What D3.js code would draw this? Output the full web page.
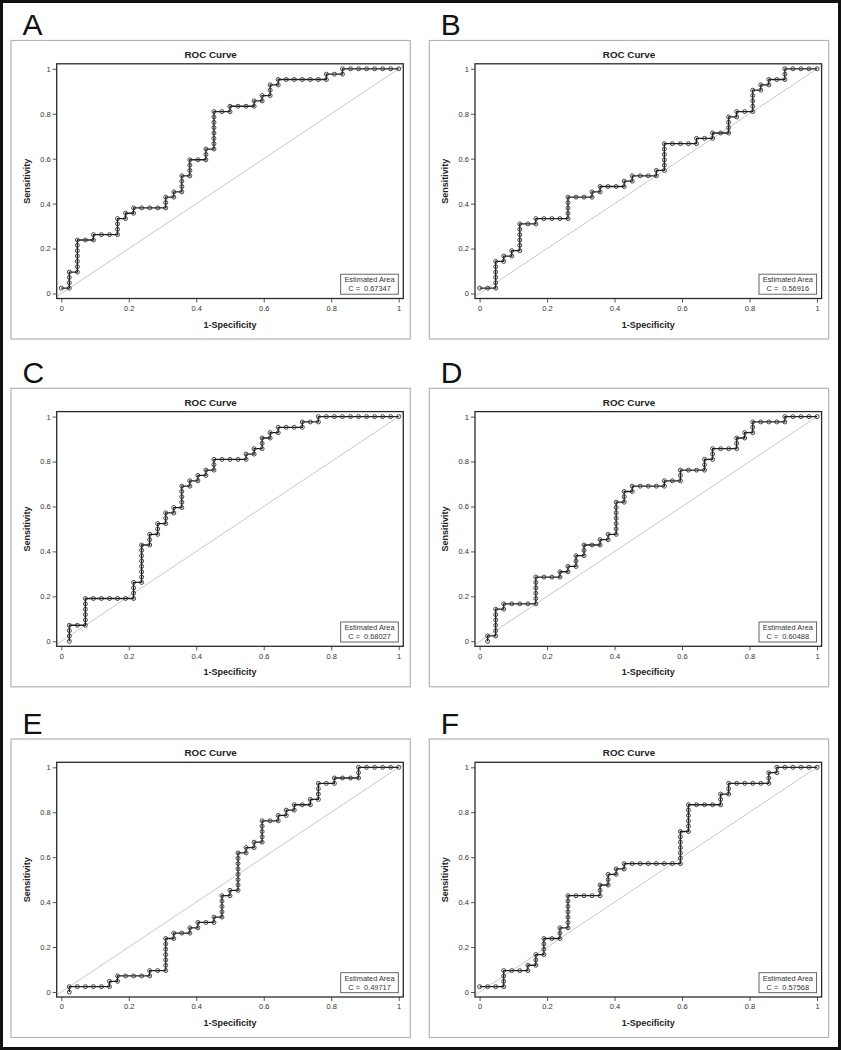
<!DOCTYPE html>
<html><head><meta charset="utf-8">
<script src="https://cdn.jsdelivr.net/npm/d3@7"></script>
<style>
body{margin:0;background:#fff}
svg{display:block}
text{font-family:"Liberation Sans",Arial,Helvetica,sans-serif}
</style>
</head><body>
<svg id="chart" width="841" height="1050"></svg>
<script>
// ---------- data ----------
const panelLetters = ["A", "B", "C", "D", "E", "F"];
const aucValues = ["0.67347", "0.56916", "0.68027", "0.60488", "0.49717", "0.57568"];
const tickValues = [0, 0.2, 0.4, 0.6, 0.8, 1];
const tickLabels = ["0", "0.2", "0.4", "0.6", "0.8", "1"];
const nNeg = 42;   // 1-specificity denominator
const nPos = 42;   // sensitivity denominator

// ROC points as [false-positive count, true-positive count]
const rocA = [[0,1],[1,1],[1,2],[1,3],[1,4],[2,4],[2,5],[2,6],[2,7],[2,8],[2,9],[2,10],[3,10],[4,10],[4,11],[5,11],[6,11],[7,11],[7,12],[7,13],[7,14],[8,14],[8,15],[9,15],[9,16],[10,16],[11,16],[12,16],[13,16],[13,17],[13,18],[14,18],[14,19],[15,19],[15,20],[15,21],[15,22],[16,22],[16,23],[16,24],[16,25],[17,25],[18,25],[18,26],[18,27],[19,27],[19,28],[19,29],[19,30],[19,31],[19,32],[19,33],[19,34],[20,34],[21,34],[21,35],[22,35],[23,35],[24,35],[24,36],[25,36],[25,37],[26,37],[26,38],[26,39],[27,39],[27,40],[28,40],[29,40],[30,40],[31,40],[32,40],[33,40],[33,41],[34,41],[35,41],[35,42],[36,42],[37,42],[38,42],[39,42],[40,42],[41,42],[42,42]];
const rocB = [[0,1],[1,1],[2,1],[2,2],[2,3],[2,4],[2,5],[2,6],[3,6],[3,7],[4,7],[4,8],[5,8],[5,9],[5,10],[5,11],[5,12],[5,13],[6,13],[7,13],[7,14],[8,14],[9,14],[10,14],[11,14],[11,15],[11,16],[11,17],[11,18],[12,18],[13,18],[14,18],[14,19],[15,19],[15,20],[16,20],[17,20],[18,20],[18,21],[19,21],[19,22],[20,22],[21,22],[22,22],[22,23],[23,23],[23,24],[23,25],[23,26],[23,27],[23,28],[24,28],[25,28],[26,28],[27,28],[27,29],[28,29],[29,29],[29,30],[30,30],[31,30],[31,31],[31,32],[31,33],[32,33],[32,34],[33,34],[34,34],[34,35],[34,36],[34,37],[34,38],[35,38],[35,39],[36,39],[36,40],[37,40],[38,40],[38,41],[38,42],[39,42],[40,42],[41,42],[42,42]];
const rocC = [[1,0],[1,1],[1,2],[1,3],[2,3],[3,3],[3,4],[3,5],[3,6],[3,7],[3,8],[4,8],[5,8],[6,8],[7,8],[8,8],[9,8],[9,9],[9,10],[9,11],[10,11],[10,12],[10,13],[10,14],[10,15],[10,16],[10,17],[10,18],[11,18],[11,19],[11,20],[12,20],[12,21],[12,22],[13,22],[13,23],[13,24],[14,24],[14,25],[15,25],[15,26],[15,27],[15,28],[15,29],[16,29],[16,30],[17,30],[17,31],[18,31],[18,32],[19,32],[19,33],[19,34],[20,34],[21,34],[22,34],[23,34],[23,35],[24,35],[24,36],[25,36],[25,37],[25,38],[26,38],[26,39],[27,39],[27,40],[28,40],[29,40],[30,40],[30,41],[31,41],[32,41],[32,42],[33,42],[34,42],[35,42],[36,42],[37,42],[38,42],[39,42],[40,42],[41,42],[42,42]];
const rocD = [[1,0],[1,1],[2,1],[2,2],[2,3],[2,4],[2,5],[2,6],[3,6],[3,7],[4,7],[5,7],[6,7],[7,7],[7,8],[7,9],[7,10],[7,11],[7,12],[8,12],[9,12],[10,12],[10,13],[11,13],[11,14],[12,14],[12,15],[12,16],[13,16],[13,17],[13,18],[14,18],[15,18],[15,19],[16,19],[16,20],[17,20],[17,21],[17,22],[17,23],[17,24],[17,25],[17,26],[18,26],[18,27],[18,28],[19,28],[19,29],[20,29],[21,29],[22,29],[23,29],[23,30],[24,30],[25,30],[25,31],[25,32],[26,32],[27,32],[28,32],[28,33],[28,34],[29,34],[29,35],[29,36],[30,36],[31,36],[32,36],[32,37],[32,38],[33,38],[33,39],[34,39],[34,40],[34,41],[35,41],[36,41],[37,41],[38,41],[38,42],[39,42],[40,42],[41,42],[42,42]];
const rocE = [[1,0],[1,1],[2,1],[3,1],[4,1],[5,1],[6,1],[6,2],[7,2],[7,3],[8,3],[9,3],[10,3],[11,3],[11,4],[12,4],[13,4],[13,5],[13,6],[13,7],[13,8],[13,9],[13,10],[14,10],[14,11],[15,11],[16,11],[16,12],[17,12],[17,13],[18,13],[19,13],[19,14],[20,14],[20,15],[20,16],[20,17],[20,18],[21,18],[21,19],[22,19],[22,20],[22,21],[22,22],[22,23],[22,24],[22,25],[22,26],[23,26],[23,27],[24,27],[24,28],[25,28],[25,29],[25,30],[25,31],[25,32],[26,32],[27,32],[27,33],[28,33],[28,34],[29,34],[29,35],[30,35],[31,35],[31,36],[32,36],[32,37],[32,38],[32,39],[33,39],[34,39],[34,40],[35,40],[36,40],[37,40],[37,41],[37,42],[38,42],[39,42],[40,42],[41,42],[42,42]];
const rocF = [[0,1],[1,1],[2,1],[3,1],[3,2],[3,3],[3,4],[4,4],[5,4],[6,4],[6,5],[7,5],[7,6],[7,7],[8,7],[8,8],[8,9],[8,10],[9,10],[10,10],[10,11],[10,12],[11,12],[11,13],[11,14],[11,15],[11,16],[11,17],[11,18],[12,18],[13,18],[14,18],[15,18],[15,19],[15,20],[16,20],[16,21],[16,22],[17,22],[17,23],[18,23],[18,24],[19,24],[20,24],[21,24],[22,24],[23,24],[24,24],[25,24],[25,25],[25,26],[25,27],[25,28],[25,29],[25,30],[26,30],[26,31],[26,32],[26,33],[26,34],[26,35],[27,35],[28,35],[29,35],[30,35],[30,36],[30,37],[31,37],[31,38],[31,39],[32,39],[33,39],[34,39],[35,39],[36,39],[36,40],[36,41],[37,41],[37,42],[38,42],[39,42],[40,42],[41,42],[42,42]];
const rocSeries = [rocA, rocB, rocC, rocD, rocE, rocF];

// ---------- layout ----------
const colX = [11, 429.3];
const rowY = [40.5, 388.3, 739];
const boxW = 399.3, boxH = 298.5;

const svg = d3.select("#chart");
svg.append("rect").attr("x", 1.5).attr("y", 1.5).attr("width", 838).attr("height", 1047)
  .attr("fill", "#fff").attr("stroke", "#111").attr("stroke-width", 3);

rocSeries.forEach((roc, i) => {
  const bx = colX[i % 2], by = rowY[Math.floor(i / 2)];
  const g = svg.append("g");

  // panel letter
  g.append("text").attr("x", bx + 11.5).attr("y", by - 5.5)
    .attr("font-size", 30).attr("fill", "#111").text(panelLetters[i]);

  // panel box
  g.append("rect").attr("x", bx).attr("y", by).attr("width", boxW).attr("height", boxH)
    .attr("fill", "#fff").attr("stroke", "#b4b4b4").attr("stroke-width", 1.2);

  // title
  g.append("text").attr("x", bx + boxW / 2).attr("y", by + 17.2)
    .attr("text-anchor", "middle").attr("font-size", 9.8).attr("font-weight", "bold")
    .attr("fill", "#222").text("ROC Curve");

  const pl = bx + 45.7, pt = by + 23.3, pr = bx + boxW - 7, pb = by + boxH - 40.5;
  const x = d3.scaleLinear().domain([0, 1]).range([pl + 4.6, pr - 4.6]);
  const y = d3.scaleLinear().domain([0, 1]).range([pb - 5, pt + 5]);

  const clipId = "clip" + i;
  g.append("clipPath").attr("id", clipId).append("rect")
    .attr("x", pl).attr("y", pt).attr("width", pr - pl).attr("height", pb - pt);

  // diagonal reference line
  const ext = 0.03;
  g.append("line").attr("clip-path", `url(#${clipId})`)
    .attr("x1", x(-ext)).attr("y1", y(-ext)).attr("x2", x(1 + ext)).attr("y2", y(1 + ext))
    .attr("stroke", "#c9c9c9").attr("stroke-width", 1);

  // axes
  const xAxis = d3.axisBottom(x).tickValues(tickValues).tickSize(4).tickPadding(3)
    .tickFormat((d, k) => tickLabels[k]);
  const yAxis = d3.axisLeft(y).tickValues(tickValues).tickSize(4).tickPadding(2)
    .tickFormat((d, k) => tickLabels[k]);
  const gx = g.append("g").attr("transform", `translate(0,${pb})`).call(xAxis);
  const gy = g.append("g").attr("transform", `translate(${pl},0)`).call(yAxis);
  [gx, gy].forEach(a => {
    a.select(".domain").remove();
    a.selectAll(".tick line").attr("stroke", "#444").attr("stroke-width", 0.9);
    a.selectAll(".tick text").attr("font-size", 7.5).attr("fill", "#333")
      .attr("font-family", '"Liberation Sans",Arial,sans-serif');
  });

  // axis titles
  g.append("text").attr("x", (pl + pr) / 2).attr("y", pb + 29)
    .attr("text-anchor", "middle").attr("font-size", 9).attr("font-weight", "bold")
    .attr("fill", "#222").text("1-Specificity");
  g.append("text").attr("transform", `translate(${bx + 18.9},${(pt + pb) / 2}) rotate(-90)`)
    .attr("text-anchor", "middle").attr("font-size", 9).attr("font-weight", "bold")
    .attr("fill", "#222").text("Sensitivity");

  // ROC step curve
  const pts = roc.map(d => [d[0] / nNeg, d[1] / nPos]);
  const line = d3.line().x(d => x(d[0])).y(d => y(d[1]));
  g.append("path").attr("d", line(pts)).attr("fill", "none")
    .attr("stroke", "#1e1e1e").attr("stroke-width", 1.3);
  g.selectAll("circle.pt").data(pts).join("circle").attr("class", "pt")
    .attr("cx", d => x(d[0])).attr("cy", d => y(d[1])).attr("r", 2)
    .attr("fill", "none").attr("stroke", "#333").attr("stroke-width", 0.9);

  // plot frame
  g.append("rect").attr("x", pl).attr("y", pt).attr("width", pr - pl).attr("height", pb - pt)
    .attr("fill", "none").attr("stroke", "#2a2a2a").attr("stroke-width", 1.3);

  // legend (Estimated Area)
  const lw = 57.6, lh = 20, lr = pr - 5, lb = pb - 4.3;
  g.append("rect").attr("x", lr - lw).attr("y", lb - lh).attr("width", lw).attr("height", lh)
    .attr("fill", "#fff").attr("stroke", "#555").attr("stroke-width", 0.9);
  g.append("text").attr("x", lr - lw / 2).attr("y", lb - lh + 8)
    .attr("text-anchor", "middle").attr("font-size", 7.4).attr("fill", "#333")
    .text("Estimated Area");
  g.append("text").attr("x", lr - lw / 2).attr("y", lb - lh + 17.2)
    .attr("text-anchor", "middle").attr("font-size", 7.4).attr("fill", "#333")
    .style("white-space", "pre").text("C =  " + aucValues[i]);
});
</script>
</body></html>
